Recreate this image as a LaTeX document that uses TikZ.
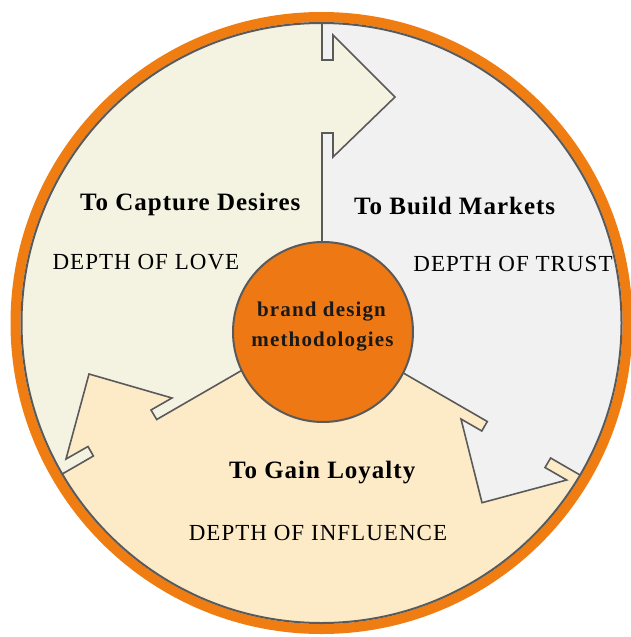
\documentclass[tikz,border=0pt]{standalone}
\usepackage{fontspec}
\setmainfont{Liberation Serif}
\newfontfamily\headfont[LetterSpace=4]{Liberation Serif}
\newfontfamily\subfont[LetterSpace=4.5]{Liberation Serif}
\newfontfamily\corefont[LetterSpace=5.5]{Liberation Serif}
\definecolor{creamA}{HTML}{F4F2E1}
\definecolor{greyA}{HTML}{F1F1F1}
\definecolor{peachA}{HTML}{FDEBC8}
\definecolor{ringorange}{HTML}{F07D12}
\definecolor{coreorange}{HTML}{EE7914}
\definecolor{lineg}{HTML}{5A5A5A}
\tikzset{
  divline/.style={draw=lineg, line width=1.6pt, line join=miter},
  headtext/.style={anchor=base, inner sep=0pt, font=\headfont\bfseries\fontsize{25}{29}\selectfont},
  subtext/.style={anchor=base, inner sep=0pt, font=\subfont\fontsize{23}{27}\selectfont},
  coretext/.style={anchor=base, inner sep=0pt, text=black!90, font=\corefont\bfseries\fontsize{21}{25}\selectfont},
}
\begin{document}
\begin{tikzpicture}[x=1pt,y=-1pt]
\useasboundingbox (0,0) rectangle (631,637);
\fill[white] (0,0) rectangle (631,637);
\begin{scope}
  \clip (321.5,323) circle[radius=300pt];
  \fill[peachA] (0,0) rectangle (631,637);
  % top-left sector (cream)
  \fill[creamA] (322,332) -- (322,133) -- (333,133) -- (333,157) -- (395,97) -- (333,35) -- (333,60) -- (322,60) -- (322,-50)
     -- (-100,-50) -- (-79.8,556)
     -- (93.4,456) -- (88,446.5) -- (66,459) -- (89,374) -- (172,398) -- (151,410) -- (156.7,419.5) -- (329,320) -- cycle;
  % top-right sector (grey)
  \fill[greyA] (322,332) -- (322,133) -- (333,133) -- (333,157) -- (395,97) -- (333,35) -- (333,60) -- (322,60) -- (322,-50)
     -- (750,-50) -- (723.8,558)
     -- (550.6,458) -- (545,467.5) -- (566.7,480) -- (482,502.7) -- (461,419) -- (481.8,431) -- (487.3,421.5) -- (315,322) -- cycle;
  % dividing lines with arrowheads
  \draw[divline] (322,332) -- (322,133) -- (333,133) -- (333,157) -- (395,97) -- (333,35) -- (333,60) -- (322,60) -- (322,-50);
  \draw[divline] (329,320) -- (156.7,419.5) -- (151,410) -- (172,398) -- (89,374) -- (66,459) -- (88,446.5) -- (93.4,456) -- (-79.8,556);
  \draw[divline] (315,322) -- (487.3,421.5) -- (481.8,431) -- (461,419) -- (482,502.7) -- (566.7,480) -- (545,467.5) -- (550.6,458) -- (723.8,558);
\end{scope}
% outer ring
\draw[ringorange, line width=10pt] (321.5,323) circle[radius=306pt];
\draw[lineg, line width=2pt] (321.5,323) circle[radius=300pt];
% core circle
\node[circle, fill=coreorange, draw=lineg, line width=2pt, minimum size=180pt, inner sep=0pt] (core) at (323,332) {};
\node[coretext] (core1) at (321.5,316.7) {brand design};
\node[coretext] (core2) at (322.5,346.7) {methodologies};
% sector headings
\node[headtext] (capture) at (190.3,210.7) {To Capture Desires};
\node[headtext] (build) at (454.7,214.3) {To Build Markets};
\node[headtext] (gain) at (322.2,478.3) {To Gain Loyalty};
% depth labels
\node[subtext] (love) at (145.9,269.8) {DEPTH OF LOVE};
\node[subtext] (trust) at (513,271) {DEPTH OF TRUST};
\node[subtext] (influence) at (318,540) {DEPTH OF INFLUENCE};
\end{tikzpicture}
\end{document}
